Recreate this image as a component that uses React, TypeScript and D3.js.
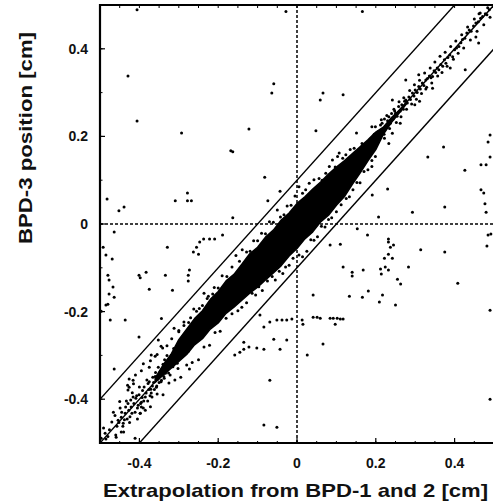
import React from "react";
import * as d3 from "d3";

// dense core of the band (solid black in the figure): x with upper / lower y edge
const coreX = [
  -0.36, -0.34, -0.32, -0.3, -0.28, -0.26, -0.24, -0.22, -0.2, -0.18, -0.16, -0.14, -0.12, -0.1, -0.08, -0.06,
  -0.04, -0.02, 0.0, 0.02, 0.04, 0.06, 0.08, 0.1, 0.12, 0.14, 0.16, 0.18, 0.2, 0.22, 0.24, 0.26, 0.28,
];
const coreTop = [
  -0.352, -0.322, -0.298, -0.264, -0.24, -0.216, -0.198, -0.172, -0.154, -0.13, -0.115, -0.092, -0.068, -0.053,
  -0.03, -0.014, 0.009, 0.025, 0.047, 0.062, 0.08, 0.096, 0.114, 0.13, 0.144, 0.16, 0.176, 0.192, 0.21, 0.222,
  0.243, 0.26, 0.28,
];
const coreBottom = [
  -0.362, -0.345, -0.33, -0.314, -0.298, -0.276, -0.262, -0.24, -0.226, -0.204, -0.19, -0.174, -0.158, -0.144,
  -0.128, -0.112, -0.095, -0.073, -0.056, -0.034, -0.018, 0.005, 0.02, 0.043, 0.062, 0.09, 0.116, 0.144, 0.17,
  0.206, 0.232, 0.254, 0.277,
];

// band points, lower-left part
const lowerTail = [
  [-0.497, -0.489], [-0.487, -0.478], [-0.485, -0.491], [-0.48, -0.485], [-0.47, -0.452], [-0.462, -0.437],
  [-0.459, -0.487], [-0.454, -0.448], [-0.452, -0.453], [-0.446, -0.441], [-0.446, -0.475], [-0.441, -0.455],
  [-0.436, -0.432], [-0.429, -0.41], [-0.426, -0.373], [-0.421, -0.418], [-0.416, -0.395], [-0.411, -0.43],
  [-0.403, -0.414], [-0.398, -0.432], [-0.395, -0.407], [-0.392, -0.38], [-0.385, -0.395], [-0.385, -0.425],
  [-0.378, -0.364], [-0.373, -0.392], [-0.37, -0.386], [-0.366, -0.35], [-0.362, -0.378], [-0.357, -0.373],
  [-0.352, -0.327], [-0.35, -0.362], [-0.344, -0.357], [-0.34, -0.32], [-0.338, -0.348], [-0.334, -0.341],
  [-0.33, -0.3], [-0.328, -0.332], [-0.324, -0.318], [-0.322, -0.345], [-0.318, -0.305], [-0.315, -0.326],
  [-0.311, -0.29], [-0.308, -0.312], [-0.305, -0.298], [-0.302, -0.33], [-0.299, -0.276], [-0.298, -0.3],
  [-0.296, -0.305], [-0.294, -0.282], [-0.292, -0.289], [-0.291, -0.27], [-0.29, -0.262], [-0.287, -0.296],
  [-0.286, -0.284], [-0.284, -0.276], [-0.283, -0.262], [-0.281, -0.25], [-0.279, -0.288], [-0.279, -0.27],
  [-0.276, -0.265], [-0.275, -0.29], [-0.273, -0.331], [-0.272, -0.245], [-0.271, -0.258], [-0.27, -0.278],
  [-0.268, -0.24], [-0.266, -0.255], [-0.265, -0.268], [-0.263, -0.232], [-0.261, -0.25], [-0.26, -0.27],
  [-0.258, -0.228], [-0.257, -0.246], [-0.255, -0.262], [-0.254, -0.22], [-0.251, -0.262], [-0.25, -0.24],
  [-0.426, -0.354], [-0.41, -0.345], [-0.395, -0.335], [-0.372, -0.312], [-0.37, -0.299], [-0.355, -0.298],
  [-0.341, -0.283], [-0.318, -0.262], [-0.3, -0.246], [-0.287, -0.232], [-0.27, -0.214], [-0.255, -0.199],
  [-0.24, -0.186], [-0.228, -0.17], [-0.214, -0.16], [-0.395, -0.418], [-0.398, -0.432], [-0.411, -0.489],
  [-0.429, -0.379], [-0.416, -0.357], [-0.491, -0.466], [-0.476, -0.47], [-0.466, -0.43], [-0.457, -0.462],
  [-0.449, -0.42], [-0.438, -0.447], [-0.433, -0.404], [-0.424, -0.44], [-0.418, -0.385], [-0.407, -0.392],
  [-0.4, -0.372], [-0.389, -0.404], [-0.381, -0.356], [-0.376, -0.378], [-0.367, -0.37], [-0.359, -0.339],
  [-0.347, -0.336], [-0.336, -0.31], [-0.326, -0.34], [-0.313, -0.284], [-0.304, -0.318],
  [-0.445, -0.43], [-0.442, -0.462], [-0.435, -0.418], [-0.431, -0.445], [-0.427, -0.425], [-0.422, -0.402],
  [-0.419, -0.432], [-0.414, -0.41], [-0.409, -0.398], [-0.405, -0.42], [-0.401, -0.39], [-0.397, -0.41],
  [-0.393, -0.396], [-0.388, -0.372], [-0.383, -0.386], [-0.379, -0.404], [-0.375, -0.36], [-0.371, -0.377],
  [-0.368, -0.395], [-0.364, -0.362], [-0.36, -0.348], [-0.356, -0.37], [-0.353, -0.354], [-0.348, -0.34],
  [-0.345, -0.36], [-0.342, -0.33], [-0.337, -0.352], [-0.333, -0.322],
];

// band points, upper-right part
const upperTail = [
  [0.15, 0.14], [0.155, 0.162], [0.16, 0.15], [0.165, 0.184], [0.168, 0.158], [0.172, 0.175], [0.176, 0.168],
  [0.18, 0.186], [0.184, 0.172], [0.188, 0.196], [0.19, 0.192], [0.193, 0.18], [0.196, 0.205], [0.199, 0.222],
  [0.202, 0.19], [0.205, 0.21], [0.208, 0.2], [0.212, 0.226], [0.216, 0.23], [0.219, 0.212], [0.222, 0.24],
  [0.226, 0.222], [0.23, 0.236], [0.233, 0.245], [0.237, 0.23], [0.24, 0.252], [0.244, 0.24], [0.248, 0.258],
  [0.25, 0.253], [0.254, 0.246], [0.258, 0.268], [0.262, 0.258], [0.266, 0.272], [0.27, 0.262], [0.273, 0.28],
  [0.276, 0.283], [0.28, 0.276], [0.284, 0.29], [0.288, 0.284], [0.293, 0.299], [0.297, 0.292], [0.3, 0.306],
  [0.305, 0.3], [0.309, 0.314], [0.313, 0.308], [0.318, 0.322], [0.322, 0.316], [0.327, 0.329], [0.331, 0.332],
  [0.336, 0.338], [0.34, 0.334], [0.344, 0.337], [0.348, 0.35], [0.352, 0.346], [0.356, 0.356], [0.36, 0.352],
  [0.365, 0.364], [0.37, 0.36], [0.374, 0.375], [0.378, 0.367], [0.383, 0.38], [0.388, 0.386], [0.395, 0.382],
  [0.4, 0.398], [0.405, 0.402], [0.411, 0.405], [0.416, 0.414], [0.42, 0.421], [0.426, 0.424], [0.431, 0.436],
  [0.437, 0.443], [0.442, 0.44], [0.448, 0.452], [0.454, 0.459], [0.46, 0.462], [0.466, 0.47], [0.471, 0.474],
  [0.478, 0.48], [0.482, 0.478], [0.488, 0.489],
  [0.205, 0.186], [0.214, 0.238], [0.221, 0.205], [0.228, 0.248], [0.235, 0.218], [0.246, 0.262], [0.252, 0.232],
  [0.259, 0.279], [0.264, 0.245], [0.271, 0.288], [0.278, 0.262], [0.286, 0.305], [0.291, 0.274], [0.298, 0.318],
  [0.303, 0.285], [0.311, 0.328], [0.316, 0.298], [0.324, 0.345], [0.329, 0.312], [0.338, 0.356], [0.342, 0.322],
  [0.35, 0.37], [0.357, 0.338], [0.363, 0.383], [0.368, 0.346], [0.376, 0.392], [0.381, 0.36], [0.39, 0.405],
  [0.397, 0.376], [0.403, 0.418], [0.409, 0.39], [0.418, 0.432], [0.423, 0.402], [0.433, 0.45], [0.44, 0.42],
  [0.45, 0.468], [0.457, 0.44], [0.465, 0.482], [0.474, 0.455], [0.484, 0.494], [0.49, 0.472],
  [0.454, 0.427], [0.461, 0.413], [0.427, 0.352], [0.389, 0.356], [0.344, 0.31], [0.327, 0.308], [0.299, 0.272],
  [0.311, 0.28], [0.276, 0.329], [0.309, 0.341], [0.242, 0.283], [0.19, 0.222], [0.242, 0.207], [0.199, 0.154],
  [0.233, 0.184], [0.19, 0.131], [0.262, 0.23], [0.222, 0.196],
];

// loose points just above and below the core
const fringeAbove = [
  [-0.45, -0.405], [-0.43, -0.368], [-0.415, -0.365], [-0.39, -0.319], [-0.375, -0.327], [-0.36, -0.302],
  [-0.345, -0.279], [-0.33, -0.278], [-0.312, -0.238], [-0.3, -0.243], [-0.287, -0.224], [-0.275, -0.225],
  [-0.262, -0.194], [-0.248, -0.193], [-0.236, -0.158], [-0.225, -0.165], [-0.21, -0.145], [-0.2, -0.146],
  [-0.19, -0.118], [-0.178, -0.12], [-0.165, -0.098], [-0.155, -0.072], [-0.146, -0.085], [-0.139, -0.059],
  [-0.128, -0.064], [-0.119, -0.062], [-0.11, -0.038], [-0.1, -0.038], [-0.09, -0.021], [-0.08, -0.022],
  [-0.07, 0.005], [-0.06, 0.004], [-0.05, 0.032], [-0.042, 0.016], [-0.033, 0.021], [-0.025, 0.041],
  [-0.015, 0.043], [-0.005, 0.064], [0.005, 0.085], [0.014, 0.07], [0.022, 0.078], [0.031, 0.093],
  [0.043, 0.101], [0.056, 0.104], [0.064, 0.1], [0.073, 0.116], [0.082, 0.131], [0.09, 0.146], [0.097, 0.13],
  [0.103, 0.154], [0.107, 0.162], [0.116, 0.15], [0.124, 0.158], [0.135, 0.17], [0.145, 0.173],
];
const fringeBelow = [
  [-0.46, -0.482], [-0.44, -0.475], [-0.425, -0.453], [-0.405, -0.445], [-0.39, -0.42], [-0.372, -0.417],
  [-0.355, -0.388], [-0.34, -0.39], [-0.325, -0.363], [-0.31, -0.356], [-0.295, -0.35], [-0.28, -0.322],
  [-0.266, -0.316], [-0.25, -0.31], [-0.236, -0.281], [-0.222, -0.277], [-0.208, -0.248], [-0.195, -0.245],
  [-0.18, -0.215], [-0.165, -0.205], [-0.15, -0.198], [-0.14, -0.19], [-0.128, -0.18], [-0.114, -0.158],
  [-0.105, -0.162], [-0.097, -0.143], [-0.088, -0.152], [-0.075, -0.13], [-0.063, -0.12], [-0.055, -0.128],
  [-0.045, -0.108], [-0.036, -0.113], [-0.029, -0.098], [-0.02, -0.094], [-0.01, -0.078], [0.005, -0.071],
  [0.014, -0.075], [0.025, -0.062], [0.035, -0.036], [0.043, -0.037], [0.052, -0.029], [0.062, -0.005],
  [0.071, -0.007], [0.08, 0.01], [0.088, 0.014], [0.1, 0.028], [0.112, 0.044], [0.125, 0.058], [0.133, 0.062],
  [0.142, 0.078], [0.152, 0.095], [0.16, 0.094], [0.17, 0.12], [0.18, 0.124], [0.19, 0.145],
];

// points far from the band
const outliers = [
  [-0.028, 0.485], [-0.406, 0.489], [-0.429, 0.338], [-0.059, 0.32], [-0.064, 0.299], [-0.406, 0.235],
  [-0.293, 0.208], [-0.122, 0.217], [-0.168, 0.167], [-0.163, 0.165], [-0.082, 0.107], [-0.043, 0.075],
  [-0.074, 0.053], [-0.482, 0.057], [-0.452, 0.03], [-0.439, 0.039], [-0.309, 0.053], [-0.278, 0.071],
  [-0.278, 0.053], [-0.268, 0.053], [-0.163, 0.014],
  [-0.464, -0.018], [-0.492, -0.053], [-0.485, -0.071], [-0.469, -0.08], [-0.329, -0.053], [-0.255, -0.053],
  [-0.247, -0.041], [-0.237, -0.034], [-0.222, -0.034], [-0.209, -0.034], [-0.189, -0.025], [-0.263, -0.064],
  [-0.25, -0.069], [-0.48, -0.117], [-0.477, -0.128], [-0.467, -0.144], [-0.401, -0.117], [-0.383, -0.11],
  [-0.398, -0.123], [-0.334, -0.117], [-0.276, -0.117], [-0.276, -0.13], [-0.273, -0.105], [-0.375, -0.149],
  [-0.316, -0.151], [-0.477, -0.16], [-0.464, -0.167], [-0.48, -0.183], [-0.485, -0.185], [-0.497, -0.199],
  [-0.474, -0.219], [-0.436, -0.219], [-0.344, -0.216], [-0.401, -0.258], [-0.352, -0.265], [-0.464, -0.331],
  [-0.094, -0.208], [-0.084, -0.235], [-0.069, -0.224], [-0.051, -0.219], [-0.038, -0.219], [-0.026, -0.219],
  [-0.013, -0.217], [-0.135, -0.27], [-0.135, -0.286], [-0.122, -0.281], [-0.102, -0.283], [-0.084, -0.286],
  [-0.059, -0.263], [-0.043, -0.286], [-0.026, -0.265], [-0.069, -0.357], [-0.084, -0.459], [-0.051, -0.464],
  [-0.158, -0.299], [-0.145, -0.293],
  [0.013, -0.219], [0.015, -0.229], [0.041, -0.213], [0.051, -0.213], [0.059, -0.215], [0.084, -0.215],
  [0.092, -0.215], [0.102, -0.215], [0.11, -0.217], [0.117, -0.217], [0.097, -0.229], [0.066, -0.274],
  [0.026, -0.299], [0.153, -0.011], [0.179, -0.025], [0.084, -0.048], [0.11, -0.046], [0.232, -0.034],
  [0.232, -0.041], [0.237, -0.053], [0.245, -0.048], [0.314, -0.059], [0.375, -0.064], [0.485, -0.025],
  [0.492, -0.023], [0.482, -0.05], [0.222, -0.078], [0.242, -0.078], [0.232, -0.069], [0.117, -0.098],
  [0.14, -0.11], [0.14, -0.119], [0.168, -0.105], [0.212, -0.103], [0.214, -0.114], [0.224, -0.098],
  [0.232, -0.105], [0.283, -0.098], [0.255, -0.126], [0.263, -0.137], [0.408, -0.135], [0.041, -0.162],
  [0.133, -0.165], [0.166, -0.167], [0.181, -0.153], [0.217, -0.162], [0.209, -0.178], [0.25, -0.185],
  [0.49, -0.197], [0.49, -0.4],
  [0.166, 0.485], [0.462, 0.48], [0.066, 0.299], [0.059, 0.283], [0.117, 0.295], [0.048, 0.213],
  [0.151, 0.208], [0.372, 0.176], [0.332, 0.153], [0.426, 0.123], [0.49, 0.203], [0.485, 0.187],
  [0.49, 0.153], [0.467, 0.135], [0.48, 0.135], [0.23, 0.08], [0.191, 0.066], [0.467, 0.078],
  [0.474, 0.071], [0.293, 0.027], [0.375, 0.039], [0.477, 0.046], [0.48, 0.027], [0.207, 0.016],
];

const lineOffsets = [-0.1, 0, 0.1];
const majorTicks = [-0.4, -0.2, 0, 0.2, 0.4];
const tickLabels = ["-0.4", "-0.2", "0", "0.2", "0.4"];
const xLabel = "Extrapolation from BPD-1 and 2 [cm]";
const yLabel = "BPD-3 position [cm]";

export default function App() {
  const width = 493;
  const height = 504;
  const x = d3.scaleLinear().domain([-0.5, 0.5]).range([100, 494]);
  const y = d3.scaleLinear().domain([-0.5, 0.5]).range([443, 5]);

  const core = d3
    .area<number>()
    .x((d) => x(d))
    .y0((d, i) => y(coreBottom[i]))
    .y1((d, i) => y(coreTop[i]))(coreX);

  const points = [...lowerTail, ...upperTail, ...fringeAbove, ...fringeBelow, ...outliers];
  const minorX = d3.range(-0.45, 0.5, 0.05);
  const minorY = d3.range(-0.4, 0.5, 0.1);
  const font = "'Liberation Sans', Arial, sans-serif";

  return (
    <svg width={width} height={height} style={{ position: "absolute", left: 0, top: 0, background: "#fff" }}>
      <defs>
        <clipPath id="plot">
          <rect x={x(-0.5)} y={y(0.5)} width={x(0.5) - x(-0.5)} height={y(-0.5) - y(0.5)} />
        </clipPath>
      </defs>
      <g clipPath="url(#plot)">
        <line x1={x(0)} x2={x(0)} y1={y(-0.5)} y2={y(0.5)} stroke="#000" strokeWidth={1.5} strokeDasharray="3,2" />
        <line x1={x(-0.5)} x2={x(0.5)} y1={y(0)} y2={y(0)} stroke="#000" strokeWidth={1.5} strokeDasharray="3,2" />
        <path d={core ?? ""} fill="#000" stroke="#000" strokeWidth={1.5} strokeLinejoin="round" />
        {points.map((p, i) => (
          <circle key={i} cx={x(p[0])} cy={y(p[1])} r={1.5} fill="#000" />
        ))}
        {lineOffsets.map((o) => (
          <line key={o} x1={x(-0.6)} y1={y(-0.6 + o)} x2={x(0.6)} y2={y(0.6 + o)} stroke="#000" strokeWidth={1.4} />
        ))}
      </g>
      <path
        d={`M${x(0.5) + 2},${y(0.5)}H${x(-0.5)}V${y(-0.5)}H${x(0.5) + 2}`}
        fill="none"
        stroke="#000"
        strokeWidth={2.2}
      />
      {minorX.map((t) => (
        <g key={"mx" + t}>
          <line x1={x(t)} x2={x(t)} y1={y(0.5)} y2={y(0.5) + 3} stroke="#000" strokeWidth={1} />
          <line x1={x(t)} x2={x(t)} y1={y(-0.5)} y2={y(-0.5) - 2} stroke="#000" strokeWidth={1} />
        </g>
      ))}
      {minorY.map((t) => (
        <line key={"my" + t} x1={x(-0.5)} x2={x(-0.5) + 2.5} y1={y(t)} y2={y(t)} stroke="#000" strokeWidth={1} />
      ))}
      {majorTicks.map((t, i) => (
        <g key={"t" + t}>
          <line x1={x(t)} x2={x(t)} y1={y(-0.5)} y2={y(-0.5) - 5} stroke="#000" strokeWidth={1.2} />
          <line x1={x(-0.5)} x2={x(-0.5) + 5} y1={y(t)} y2={y(t)} stroke="#000" strokeWidth={1.2} />
          <text x={x(t)} y={468} textAnchor="middle" fontFamily={font} fontWeight="bold" fontSize={14} fill="#111">
            {tickLabels[i]}
          </text>
          <text x={88} y={y(t) + 5} textAnchor="end" fontFamily={font} fontWeight="bold" fontSize={14} fill="#111">
            {tickLabels[i]}
          </text>
        </g>
      ))}
      <text
        x={103}
        y={497}
        fontFamily={font}
        fontWeight="bold"
        fontSize={19}
        textLength={385}
        lengthAdjust="spacingAndGlyphs"
        fill="#111"
      >
        {xLabel}
      </text>
      <text
        transform={`translate(32,${32 + 212}) rotate(-90)`}
        fontFamily={font}
        fontWeight="bold"
        fontSize={19}
        textLength={212}
        lengthAdjust="spacingAndGlyphs"
        fill="#111"
      >
        {yLabel}
      </text>
    </svg>
  );
}
